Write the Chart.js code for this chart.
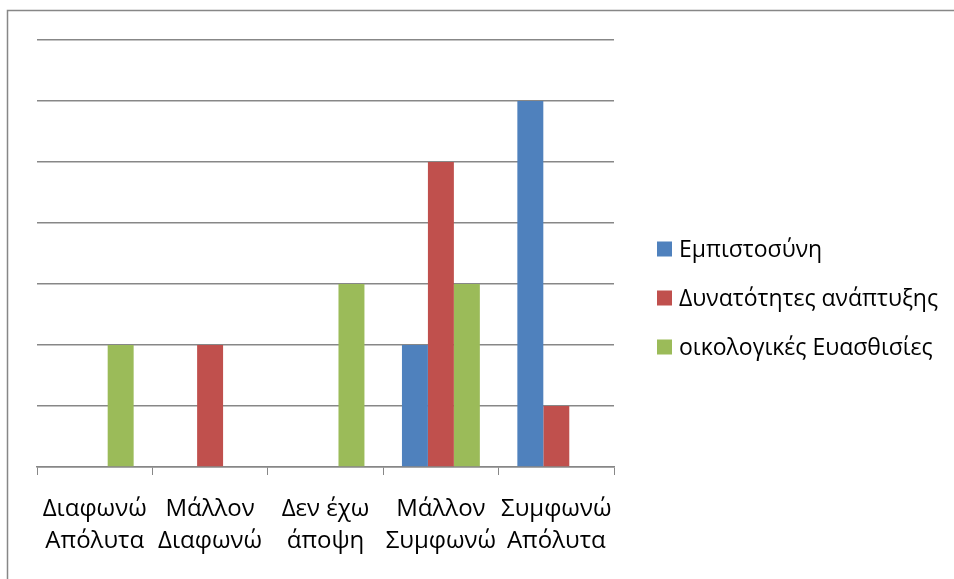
<!DOCTYPE html>
<html><head><meta charset="utf-8">
<script src="https://cdn.jsdelivr.net/npm/chart.js@4"></script>
<style>html,body{margin:0;padding:0;background:#fff;overflow:hidden}#wrap{position:absolute;left:0;top:0;width:954px;height:579px}</style>
</head><body><div id="wrap"><canvas id="c" width="954" height="579"></canvas></div>
<script>
const categories = [["Διαφωνώ","Απόλυτα"],["Μάλλον","Διαφωνώ"],["Δεν έχω","άποψη"],["Μάλλον","Συμφωνώ"],["Συμφωνώ","Απόλυτα"]];
const seriesNames = ["Εμπιστοσύνη","Δυνατότητες ανάπτυξης","οικολογικές Ευασθισίες"];
const trust = [0,0,0,2,6];
const growth = [0,2,0,5,1];
const eco = [2,0,3,3,0];
const colors = ["#4F81BD","#C0504D","#9BBB59"];
const FONT = "'Open Sans', 'Noto Sans', sans-serif";

const frame = {id:'frame', beforeDraw(ch){const c=ch.ctx;c.save();c.fillStyle='#fff';c.fillRect(0,0,ch.width,ch.height);c.strokeStyle='#878787';c.lineWidth=1.5;
  c.beginPath();c.moveTo(7.5,ch.height+5);c.lineTo(7.5,10.5);c.lineTo(ch.width+5,10.5);c.stroke();c.restore();}};
const legendPlugin = {id:'customLegend', afterDraw(ch){const c=ch.ctx;c.save();c.font="23px "+FONT;c.textBaseline='middle';
  const ys=[249,298,347];
  ch.data.datasets.forEach((d,i)=>{c.fillStyle=d.backgroundColor;c.fillRect(657,ys[i]-7.5,15,15);c.fillStyle='#000';c.fillText(d.label,679,ys[i]+1);});
  c.restore();}};

new Chart(document.getElementById('c'),{
  type:'bar',
  data:{labels:categories,datasets:[
    {label:seriesNames[0],data:trust,backgroundColor:colors[0]},
    {label:seriesNames[1],data:growth,backgroundColor:colors[1]},
    {label:seriesNames[2],data:eco,backgroundColor:colors[2]}]},
  options:{responsive:false,animation:false,
    layout:{padding:{left:37,top:40,right:340,bottom:0}},
    datasets:{bar:{barPercentage:1,categoryPercentage:0.675}},
    plugins:{legend:{display:false},tooltip:{enabled:false}},
    scales:{
      x:{grid:{drawOnChartArea:false,drawTicks:true,tickLength:8,color:'#878787',offset:true},
         border:{color:'#878787',width:1.5},
         ticks:{color:'#000',font:{family:FONT,size:24,lineHeight:1.33},padding:18,maxRotation:0,autoSkip:false},
         afterFit(s){s.height=112;}},
      y:{min:0,max:7,ticks:{display:false,stepSize:1},grid:{color:'#878787',lineWidth:1.5,drawTicks:false},border:{display:false},
         afterFit(s){s.width=0;}}
    }},
  plugins:[frame,legendPlugin]
});
</script></body></html>
